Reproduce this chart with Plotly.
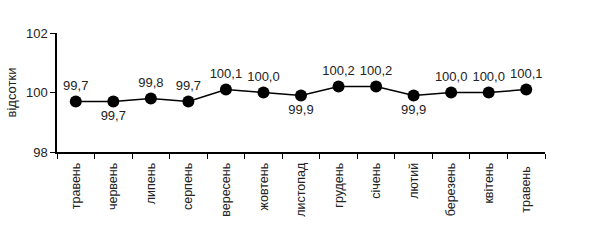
import plotly.graph_objects as go

months = ["травень", "червень", "липень", "серпень", "вересень", "жовтень", "листопад",
          "грудень", "січень", "лютий", "березень", "квітень", "травень "]
values = [99.7, 99.7, 99.8, 99.7, 100.1, 100.0, 99.9, 100.2, 100.2, 99.9, 100.0, 100.0, 100.1]
labels = ["99,7", "99,7", "99,8", "99,7", "100,1", "100,0", "99,9", "100,2", "100,2", "99,9", "100,0", "100,0", "100,1"]
label_pos = ["top center", "bottom center", "top center", "top center", "top center", "top center",
             "bottom center", "top center", "top center", "bottom center", "top center", "top center", "top center"]

fig = go.Figure(go.Scatter(
    x=months, y=values, mode="lines+markers+text",
    line=dict(color="black", width=1.5),
    marker=dict(color="black", size=12),
    text=labels, textposition=label_pos,
    textfont=dict(family="Liberation Sans, Arial", size=13, color="#222"),
    cliponaxis=False,
))

fig.update_layout(
    width=590, height=244,
    margin=dict(l=57, r=45, t=33, b=92),
    plot_bgcolor="white", paper_bgcolor="white",
    showlegend=False,
    font=dict(family="Liberation Sans, Arial", size=13, color="#222"),
)
fig.update_xaxes(
    type="category", tickangle=-90, showline=True, linecolor="black", linewidth=1.5,
    ticks="outside", tickson="boundaries", ticklen=5, tickcolor="black",
    showgrid=False, tickfont=dict(size=12.5), range=[-0.5, 12.5],
    ticklabelstandoff=4,
)
fig.update_yaxes(
    range=[98, 102], tickvals=[98, 100, 102], ticktext=["98", "100", "102"],
    showline=True, linecolor="black", linewidth=1.5, ticks="outside", ticklen=5,
    tickcolor="black", showgrid=False, zeroline=False, tickfont=dict(size=13),
    title=dict(text="відсотки", font=dict(size=13), standoff=6),
)
fig.write_html("out.html")
